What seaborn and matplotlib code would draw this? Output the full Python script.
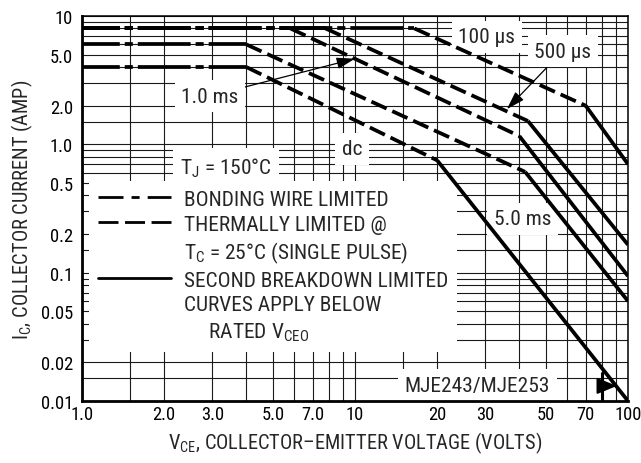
import matplotlib
matplotlib.use("Agg")
import matplotlib.pyplot as plt
from matplotlib import font_manager
from matplotlib.lines import Line2D
from matplotlib.ticker import NullFormatter
import numpy as np
import pandas as pd
import seaborn as sns

# ---- safe operating area data (MJE243 / MJE253) ----
pulse = ["100 µs", "500 µs", "1.0 ms", "5.0 ms", "dc"]
i_bond = [8.0, 8.0, 8.0, 6.0, 4.0]           # bonding-wire current limit (A)
v_therm = [16.5, 7.8, 5.8, 4.0, 4.0]         # voltage where the thermal limit starts (V)
v_sb = [70.0, 43.0, 40.0, 42.0, 20.0]        # voltage where second breakdown takes over (V)
i_sb = [2.0, 1.52, 1.16, 0.61, 0.75]         # current at that knee (A)
i_end = [0.70, 0.165, 0.094, 0.060, 0.010]   # current at V_MAX (A)

V_MIN, V_MAX = 1.0, 100.0
I_MIN, I_MAX = 0.01, 10.0
V_CEO_MJE243 = 80.0

x_ticks = [1, 2, 3, 5, 7, 10, 20, 30, 50, 70, 100]
x_labels = ["1.0", "2.0", "3.0", "5.0", "7.0", "10", "20", "30", "50", "70", "100"]
y_ticks = [0.01, 0.02, 0.05, 0.1, 0.2, 0.5, 1, 2, 5, 10]
y_labels = ["0.01", "0.02", "0.05", "0.1", "0.2", "0.5", "1.0", "2.0", "5.0", "10"]
grid_mantissa = [1, 1.5, 2, 3, 4, 5, 6, 7, 8, 9]


# ---- fonts: prefer a narrow sans face, else shrink a regular one ----
def find_narrow():
    preferred = ["liberation sans narrow", "arial narrow", "nimbus sans narrow",
                 "roboto condensed", "noto sans", "open sans", "dejavu sans"]
    found = []
    for f in font_manager.fontManager.ttflist:
        name = f.name.lower()
        stretch = str(f.stretch).lower()
        narrow = ("narrow" in name or "condensed" in name
                  or stretch in ("condensed", "semi-condensed", "extra-condensed"))
        if not narrow or f.style != "normal":
            continue
        if str(f.weight) not in ("400", "normal", "regular", "book"):
            continue
        if "semi" in stretch or "semi" in name:
            continue
        rank = len(preferred)
        for k, p in enumerate(preferred):
            if name.startswith(p):
                rank = k
                break
        found.append((rank, f.name, f.stretch))
    if not found:
        return None
    found.sort()
    return found[0]


sns.set_style("white")
narrow = find_narrow()
if narrow is not None:
    FONT, STRETCH = narrow[1], narrow[2]
    K = 1.0
else:
    FONT, STRETCH = "Liberation Sans", "normal"
    K = 0.83
plt.rcParams["font.family"] = [FONT, "DejaVu Sans"]
plt.rcParams["font.stretch"] = STRETCH
plt.rcParams["mathtext.fontset"] = "custom"
plt.rcParams["mathtext.rm"] = FONT
plt.rcParams["mathtext.it"] = FONT
plt.rcParams["mathtext.default"] = "regular"
plt.rcParams["lines.scale_dashes"] = False

FS_TEXT = 15.4 * K
FS_TICK = 13.3 * K
FS_AXIS = 14.7 * K

# ---- long-form table of curve segments ----
rows = []
for k, name in enumerate(pulse):
    pts = {
        "bonding": [(V_MIN, i_bond[k]), (v_therm[k], i_bond[k])],
        "thermal": [(v_therm[k], i_bond[k]), (v_sb[k], i_sb[k])],
        "second": [(v_sb[k], i_sb[k]), (V_MAX, i_end[k])],
    }
    for limit, seg in pts.items():
        for v, i in seg:
            rows.append({"curve": name, "limit": limit, "unit": f"{name}/{limit}",
                         "V": v, "I": i})
df = pd.DataFrame(rows)

LIMIT_STYLE = {
    "bonding": (10.8, (38, 3.6, 5.8, 3.6)),
    "thermal": (0, (12, 4.5)),
    "second": "-",
}

fig = plt.figure(figsize=(6.41, 4.64), dpi=100)
ax = fig.add_axes([82 / 641, 1 - 402 / 464, 546 / 641, 385 / 464])
ax.set_xscale("log")
ax.set_yscale("log")

for limit, ls in LIMIT_STYLE.items():
    sns.lineplot(data=df[df["limit"] == limit], x="V", y="I", units="unit",
                 estimator=None, sort=False, color="black", linestyle=ls,
                 lw=2.7, legend=False, ax=ax, zorder=6,
                 solid_capstyle="butt", dash_capstyle="butt")

ax.set_xlim(V_MIN, V_MAX)
ax.set_ylim(I_MIN, I_MAX)

# ---- ticks and grid ----
x_grid = [d * m for d in (1, 10) for m in grid_mantissa if d * m not in x_ticks]
y_grid = [d * m for d in (0.01, 0.1, 1) for m in grid_mantissa
          if not any(np.isclose(d * m, t) for t in y_ticks)]
ax.set_xticks(x_ticks, x_labels)
ax.set_yticks(y_ticks, y_labels)
ax.set_xticks(x_grid, minor=True)
ax.set_yticks(y_grid, minor=True)
ax.xaxis.set_minor_formatter(NullFormatter())
ax.yaxis.set_minor_formatter(NullFormatter())
ax.tick_params(which="both", length=0, labelsize=FS_TICK, colors="black")
ax.tick_params(axis="x", pad=3)
ax.tick_params(axis="y", pad=6.5)
ax.set_axisbelow(True)
ax.grid(True, which="both", color="#1a1a1a", lw=0.8)

for side in ("left", "bottom"):
    ax.spines[side].set_linewidth(2.0)
for side in ("top", "right"):
    ax.spines[side].set_linewidth(1.1)
for sp in ax.spines.values():
    sp.set_color("black")
    sp.set_zorder(7)

ax.set_xlabel(r"V$_{CE}$, COLLECTOR–EMITTER VOLTAGE (VOLTS)", fontsize=FS_AXIS, labelpad=5)
ax.set_ylabel(r"I$_C$, COLLECTOR CURRENT (AMP)", fontsize=FS_AXIS, labelpad=4)

# ---- curve labels ----
box = dict(boxstyle="square,pad=0.3", fc="white", ec="none")
arrow = dict(arrowstyle="-|>,head_length=0.8,head_width=0.25", mutation_scale=14,
             color="black", lw=0.9, shrinkA=0, shrinkB=0)

ax.text(30.4, 6.9, "100 µs", fontsize=FS_TEXT, ha="center", va="center", bbox=box, zorder=4)
ax.annotate("500 µs", xy=(36, 1.88), xytext=(57.6, 5.33), fontsize=FS_TEXT,
            ha="center", va="center", bbox=box, arrowprops=arrow, zorder=4)
ax.annotate("1.0 ms", xy=(10, 4.65), xytext=(2.94, 2.38), fontsize=FS_TEXT,
            ha="center", va="center", bbox=box, arrowprops=arrow, zorder=4)
ax.text(9.75, 0.92, "dc", fontsize=FS_TEXT, ha="center", va="center", bbox=box, zorder=4)
ax.text(41.1, 0.262, "5.0 ms", fontsize=FS_TEXT, ha="center", va="center", bbox=box, zorder=4)
ax.text(28.1, 0.0133, "MJE243/MJE253", fontsize=FS_TEXT, ha="center", va="center",
        bbox=box, zorder=4)
ax.text(3.37, 0.66, r"T$_J$ = 150°C", fontsize=FS_TEXT, ha="center", va="center",
        bbox=dict(boxstyle="square,pad=0.35", fc="white", ec="none"), zorder=4)

# MJE243 rated voltage marker
ax.plot([V_CEO_MJE243, V_CEO_MJE243], [I_MIN, 0.0168], color="black", lw=2.2,
        solid_capstyle="butt", zorder=6)
ax.annotate("", xy=(91, 0.0131), xytext=(V_CEO_MJE243, 0.0131),
            arrowprops=dict(arrowstyle="-|>,head_length=0.85,head_width=0.35",
                            mutation_scale=14, color="black", lw=1.5,
                            shrinkA=0, shrinkB=0), zorder=6)

# ---- legend ----
handles = [
    Line2D([], [], color="black", lw=2.0, linestyle=(0, (18, 5.8, 5.8, 5.8))),
    Line2D([], [], color="black", lw=2.0, linestyle=(0, (14.4, 4.7))),
    Line2D([], [], color="none"),
    Line2D([], [], color="black", lw=2.0),
    Line2D([], [], color="none"),
    Line2D([], [], color="none"),
]
labels = ["BONDING WIRE LIMITED", "THERMALLY LIMITED @",
          r"T$_C$ = 25°C (SINGLE PULSE)", "SECOND BREAKDOWN LIMITED",
          "CURVES APPLY BELOW", r"     RATED V$_{CEO}$"]
leg = ax.legend(handles, labels, loc="upper left",
                bbox_to_anchor=((89 - 82) / 546, (402 - 182) / 385),
                borderaxespad=0, frameon=True, fancybox=False, framealpha=1,
                edgecolor="none", facecolor="white", fontsize=FS_TEXT,
                handlelength=52.5 / FS_TEXT, handletextpad=9.4 / FS_TEXT,
                labelspacing=0.27, borderpad=0.42)
leg.set_zorder(4)

fig.savefig("out.png", dpi=100)
